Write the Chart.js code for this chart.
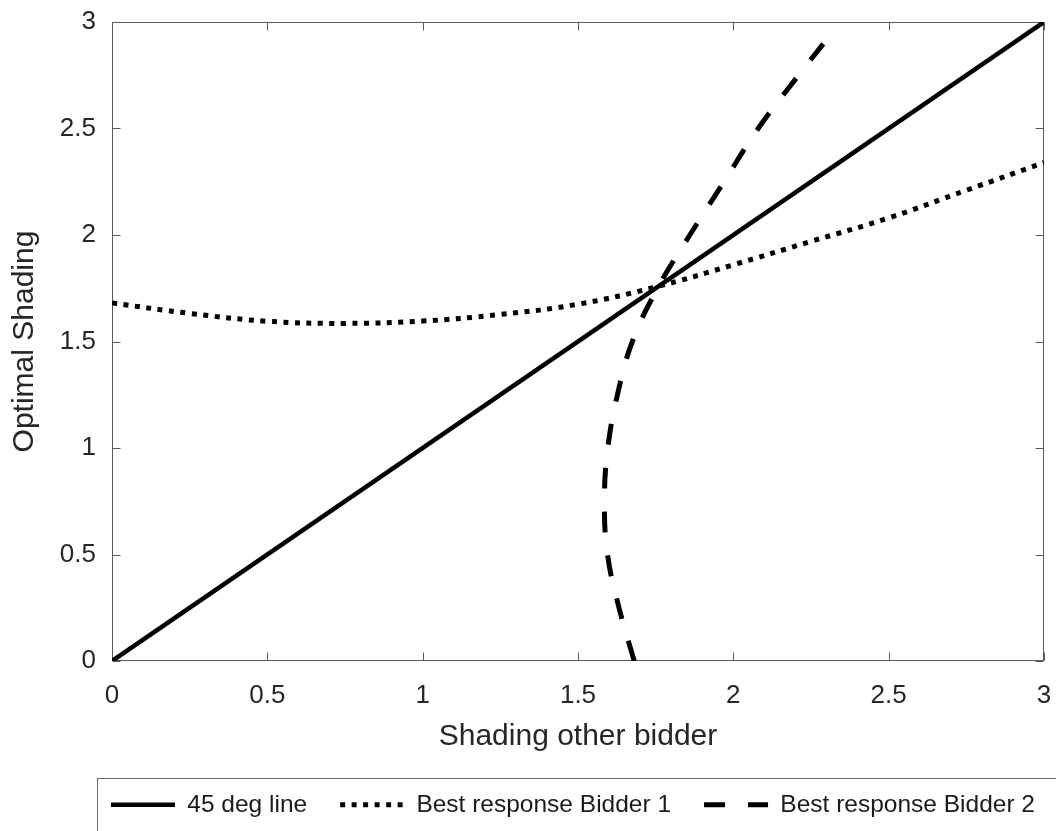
<!DOCTYPE html>
<html><head><meta charset="utf-8">
<script src="https://cdn.jsdelivr.net/npm/chart.js@4.4.1/dist/chart.umd.min.js"></script>
<style>html,body{margin:0;padding:0;background:#fff;overflow:hidden}canvas{display:block}</style>
</head><body>
<canvas id="c" width="1056" height="831"></canvas>
<script>
const tickValues = [0, 0.5, 1, 1.5, 2, 2.5, 3];
const tickLabels = ['0', '0.5', '1', '1.5', '2', '2.5', '3'];
const seriesNames = ['45 deg line', 'Best response Bidder 1', 'Best response Bidder 2'];
const xTitle = 'Shading other bidder';
const yTitle = 'Optimal Shading';
const diagX = [0, 3];
const diagY = [0, 3];
const bidder1X = [0, 0.25, 0.5, 0.75, 1, 1.25, 1.5, 1.75, 2, 2.25, 2.5, 2.75, 3];
const bidder1Y = [1.681, 1.632, 1.595, 1.585, 1.596, 1.627, 1.675, 1.756, 1.86, 1.97, 2.08, 2.21, 2.34];
const bidder2X = [1.681, 1.632, 1.595, 1.585, 1.596, 1.627, 1.675, 1.756, 1.86, 1.97, 2.08, 2.21, 2.31];
const bidder2Y = [0, 0.25, 0.5, 0.75, 1, 1.25, 1.5, 1.75, 2, 2.25, 2.5, 2.75, 2.935];

const zip = (xs, ys) => xs.map((x, i) => ({x, y: ys[i]}));

Chart.defaults.font.family = "'Liberation Sans', Arial, sans-serif";
Chart.defaults.color = '#262626';

const frame = {
  id: 'frame',
  afterLayout(chart) {
    const lg = chart.legend;
    lg.left = 78;
    lg.right = 4000;
  },
  beforeDatasetsDraw(chart) {
    const {ctx, chartArea: a, scales: {x, y}} = chart;
    ctx.save();
    ctx.strokeStyle = '#5a5a5a';
    ctx.lineWidth = 1;
    const L = Math.round(a.left) + 0.5, R = Math.round(a.right) - 0.5;
    const T = Math.round(a.top) + 0.5, B = Math.round(a.bottom) - 0.5;
    ctx.strokeRect(L, T, R - L, B - T);
    ctx.beginPath();
    tickValues.forEach(v => {
      const px = Math.round(x.getPixelForValue(v)) + 0.5;
      ctx.moveTo(px, B); ctx.lineTo(px, B - 8);
      ctx.moveTo(px, T); ctx.lineTo(px, T + 8);
      const py = Math.round(y.getPixelForValue(v)) + 0.5;
      ctx.moveTo(L, py); ctx.lineTo(L + 8, py);
      ctx.moveTo(R, py); ctx.lineTo(R - 8, py);
    });
    ctx.stroke();
    const lg = chart.legend;
    ctx.strokeStyle = '#6a6a6a';
    ctx.strokeRect(Math.round(lg.left) + 19.5, Math.round(lg.top) + 18.5, 1400, 300);
    ctx.restore();
  }
};

const tickCb = (v) => {
  const i = tickValues.findIndex(t => Math.abs(t - v) < 1e-9);
  return i >= 0 ? tickLabels[i] : '';
};

new Chart(document.getElementById('c'), {
  type: 'scatter',
  data: {
    datasets: [
      {label: seriesNames[0], data: zip(diagX, diagY), showLine: true, borderColor: '#000', backgroundColor: '#000', borderWidth: 4.5, pointRadius: 0, tension: 0},
      {label: seriesNames[1], data: zip(bidder1X, bidder1Y), showLine: true, borderColor: '#000', backgroundColor: '#000', borderWidth: 5, borderDash: [5, 6.5], borderCapStyle: 'butt', pointRadius: 0, tension: 0.4},
      {label: seriesNames[2], data: zip(bidder2X, bidder2Y), showLine: true, borderColor: '#000', backgroundColor: '#000', borderWidth: 5, borderDash: [21, 23], borderCapStyle: 'butt', pointRadius: 0, tension: 0.4}
    ]
  },
  options: {
    responsive: false,
    animation: false,
    devicePixelRatio: 1,
    layout: {padding: {top: 22, right: 12, left: 0, bottom: 4}},
    plugins: {
      tooltip: {enabled: false},
      legend: {
        position: 'bottom',
        align: 'start',
        labels: {
          usePointStyle: true,
          pointStyle: 'line',
          pointStyleWidth: 64,
          padding: 33,
          color: '#1a1a1a',
          font: {size: 24.5},
          generateLabels: (chart) => chart.data.datasets.map((ds, i) => ({
            text: ds.label,
            fillStyle: ds.borderColor,
            strokeStyle: ds.borderColor,
            lineWidth: ds.borderWidth,
            lineDash: ds.borderDash || [],
            lineCap: 'butt',
            pointStyle: 'line',
            fontColor: '#1a1a1a',
            hidden: false,
            datasetIndex: i
          }))
        }
      }
    },
    scales: {
      x: {
        type: 'linear', min: 0, max: 3,
        afterBuildTicks: s => { s.ticks = tickValues.map(v => ({value: v})); },
        afterFit: s => { s.height = 831 - 4 - 661 - s.chart.legend.height; s.paddingLeft = 0; s.paddingRight = 0; },
        grid: {display: false, drawTicks: false},
        border: {display: false},
        ticks: {callback: tickCb, padding: 19, font: {size: 26}, color: '#262626', maxRotation: 0},
        title: {display: true, text: xTitle, font: {size: 30}, color: '#262626', padding: {top: 0, bottom: 5}}
      },
      y: {
        type: 'linear', min: 0, max: 3,
        afterBuildTicks: s => { s.ticks = tickValues.map(v => ({value: v})); },
        afterFit: s => { s.width = 112; s.paddingTop = 0; s.paddingBottom = 0; },
        grid: {display: false, drawTicks: false},
        border: {display: false},
        ticks: {callback: tickCb, padding: 16, font: {size: 26}, color: '#262626'},
        title: {display: true, text: yTitle, font: {size: 30}, color: '#262626', padding: {top: 7, bottom: 0}}
      }
    }
  },
  plugins: [frame]
});
</script>
</body></html>
